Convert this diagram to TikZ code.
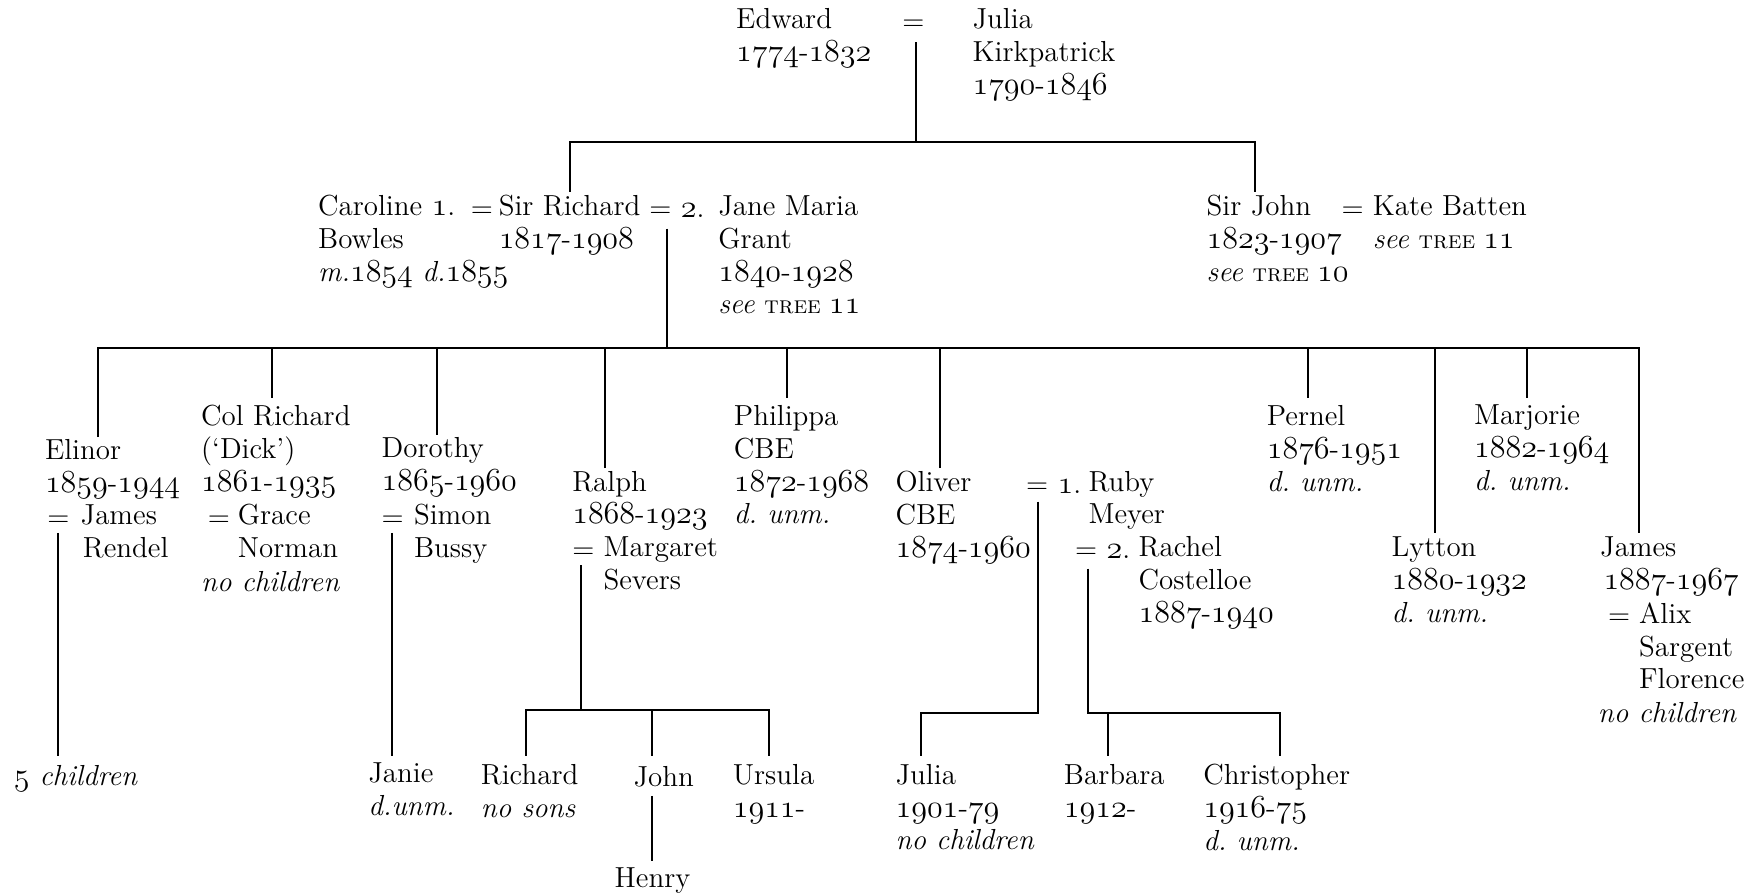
\documentclass[tikz,border=0pt]{standalone}
\usetikzlibrary{calc}
% old-style figures taken from the Latin Modern math italic font
\newcommand\os[1]{{\fontencoding{OML}\fontfamily{lmm}\fontseries{m}\fontshape{it}\fontsize{13.3}{14.75}\selectfont #1}}
\newcommand\yrs[2]{\os{#1}-\os{#2}}
\newcommand\tree[1]{\textit{see} {\fontsize{11}{14.75}\selectfont\textsc{tree} \os{#1}}}
\newcommand\unm{\textit{d.\ unm.}}
\tikzset{
  % the given point is the baseline of the first line of the entry
  person/.style={anchor=north west, yshift=10pt, inner sep=0pt, align=left,
    font=\fontsize{13}{14.75}\selectfont,
    execute at begin node={\rule{0pt}{10pt}}},
  link/.style={line width=0.9pt, line join=miter},
}
\begin{document}
\begin{tikzpicture}[x=0.5pt, y=-0.5pt]
\useasboundingbox (0,0) rectangle (1568,803);

% ---------- generation 1 ----------
\node[person] (edward) at (660,27) {Edward\\\yrs{1774}{1832}};
\node[person] (eqtop) at (809,27) {=};
\node[person] (julia) at (872,27) {Julia\\Kirkpatrick\\\yrs{1790}{1846}};

% ---------- generation 2 ----------
\node[person] (caroline) at (285,195) {Caroline \os{1}.\\Bowles\\\textit{m.}\os{1854} \textit{d.}\os{1855}};
\node[person] (eqcar) at (422,195) {=};
\node[person] (sirrichard) at (447,195) {Sir Richard\\\yrs{1817}{1908}};
\node[person] (eqjane) at (582,195) {= \os{2}.};
\node[person] (jane) at (644,195) {Jane Maria\\Grant\\\yrs{1840}{1928}\\\tree{11}};
\node[person] (sirjohn) at (1082,195) {Sir John\\\yrs{1823}{1907}\\\tree{10}};
\node[person] (eqkate) at (1203,195) {=};
\node[person] (kate) at (1231,195) {Kate Batten\\\tree{11}};

% ---------- generation 3 ----------
\node[person] (elinor) at (40,414) {Elinor\\\yrs{1859}{1944}};
\node[person] (eqelinor) at (42,472) {=};
\node[person] (rendel) at (72,472) {James\\\hspace*{1pt}Rendel};

\node[person] (colrichard) at (180,383) {Col Richard\\(`Dick')\\\yrs{1861}{1935}};
\node[person] (eqcol) at (186,472) {=};
\node[person] (grace) at (213,472) {Grace\\Norman};
\node[person] (colnote) at (180,530) {\textit{no children}};

\node[person] (dorothy) at (342,412) {Dorothy\\\yrs{1865}{1960}};
\node[person] (eqdor) at (342,472) {=};
\node[person] (simon) at (371,472) {Simon\\Bussy};

\node[person] (ralph) at (513,442) {Ralph\\\yrs{1868}{1923}};
\node[person] (eqralph) at (513,501) {=};
\node[person] (margaret) at (541,501) {Margaret\\Severs};

\node[person] (philippa) at (658,383) {Philippa\\CBE\\\yrs{1872}{1968}\\\unm};

\node[person] (oliver) at (803,442) {Oliver\\CBE\\\yrs{1874}{1960}};
\node[person] (eqruby) at (920,442) {= \os{1}.};
\node[person] (ruby) at (976,442) {Ruby\\Meyer};
\node[person] (eqrachel) at (964,501) {= \os{2}.};
\node[person] (rachel) at (1021,501) {Rachel\\Costelloe\\\yrs{1887}{1940}};

\node[person] (pernel) at (1136,383) {Pernel\\\yrs{1876}{1951}\\\unm};
\node[person] (lytton) at (1248,501) {Lytton\\\yrs{1880}{1932}\\\unm};
\node[person] (marjorie) at (1322,383) {Marjorie\\\yrs{1882}{1964}\\\unm};
\node[person] (james) at (1435,501) {James\\\hspace*{1.5pt}\yrs{1887}{1967}};
\node[person] (eqjames) at (1442,560) {=};
\node[person] (alix) at (1470,560) {Alix\\Sargent\\Florence};
\node[person] (jamesnote) at (1433,648) {\textit{no children}};

% ---------- generation 4 ----------
\node[person] (fivechildren) at (12,704) {\textit{\os{5} children}};
\node[person] (janie) at (330,704) {Janie\\\textit{d.unm.}};
\node[person] (richardjr) at (431,705) {Richard\\\textit{no sons}};
\node[person] (john) at (568,705) {John};
\node[person] (ursula) at (657,705) {Ursula\\\os{1911}-};
\node[person] (henry) at (551,796) {Henry};
\node[person] (juliajr) at (803,705) {Julia\\\yrs{1901}{79}\\\textit{no children}};
\node[person] (barbara) at (954,705) {Barbara\\\os{1912}-};
\node[person] (christopher) at (1079,705) {Christopher\\\yrs{1916}{75}\\\unm};

% ---------- junction points ----------
\coordinate (m0) at (822,38);
\coordinate (b0) at (822,127);
\coordinate (b0l) at (511,127);
\coordinate (b0r) at (1126,127);
\coordinate (t-sirrichard) at (511,172);
\coordinate (t-sirjohn) at (1126,172);

\coordinate (m1) at (598,205);
\coordinate (b1) at (598,312);
\coordinate (b1l) at (88,312);
\coordinate (b1r) at (1470,312);
\coordinate (t-elinor) at (88,392);
\coordinate (t-colrichard) at (244,357);
\coordinate (t-dorothy) at (392,390);
\coordinate (t-ralph) at (543,420);
\coordinate (t-philippa) at (706,357);
\coordinate (t-oliver) at (843,420);
\coordinate (t-pernel) at (1173,357);
\coordinate (t-lytton) at (1287,478);
\coordinate (t-marjorie) at (1370,357);
\coordinate (t-james) at (1470,478);

\coordinate (m-elinor) at (52,478);
\coordinate (t-five) at (52,678);
\coordinate (m-dorothy) at (352,478);
\coordinate (t-janie) at (352,678);

\coordinate (m-ralph) at (521,507);
\coordinate (b-ralph) at (521,637);
\coordinate (b-ralphl) at (472,637);
\coordinate (b-ralphr) at (690,637);
\coordinate (b-john) at (585,637);
\coordinate (t-richardjr) at (472,678);
\coordinate (t-john) at (585,678);
\coordinate (t-ursula) at (690,678);
\coordinate (m-john) at (585,714);
\coordinate (t-henry) at (585,772);

\coordinate (m-ruby) at (931,450);
\coordinate (b-ruby) at (931,640);
\coordinate (b-julia) at (826,640);
\coordinate (t-juliajr) at (826,678);
\coordinate (m-rachel) at (976,510);
\coordinate (b-rachel) at (976,640);
\coordinate (b-barbara) at (994,640);
\coordinate (b-christopher) at (1148,640);
\coordinate (t-barbara) at (994,678);
\coordinate (t-christopher) at (1148,678);

% ---------- connectors ----------
\draw[link] (m0) -- (b0);
\draw[link] (t-sirrichard) -- (b0l) -- (b0r) -- (t-sirjohn);

\draw[link] (m1) -- (b1);
\draw[link] (t-elinor) -- (b1l) -- (b1r) -- (t-james);
\foreach \c in {colrichard,dorothy,ralph,philippa,oliver,pernel,lytton,marjorie}
  \draw[link] (t-\c) -- (t-\c |- b1);

\draw[link] (m-elinor) -- (t-five);
\draw[link] (m-dorothy) -- (t-janie);

\draw[link] (m-ralph) -- (b-ralph);
\draw[link] (t-richardjr) -- (b-ralphl) -- (b-ralphr) -- (t-ursula);
\draw[link] (b-john) -- (t-john);
\draw[link] (m-john) -- (t-henry);

\draw[link] (m-ruby) -- (b-ruby) -- (b-julia) -- (t-juliajr);
\draw[link] (m-rachel) -- (b-rachel) -- (b-christopher) -- (t-christopher);
\draw[link] (b-barbara) -- (t-barbara);
\end{tikzpicture}
\end{document}
